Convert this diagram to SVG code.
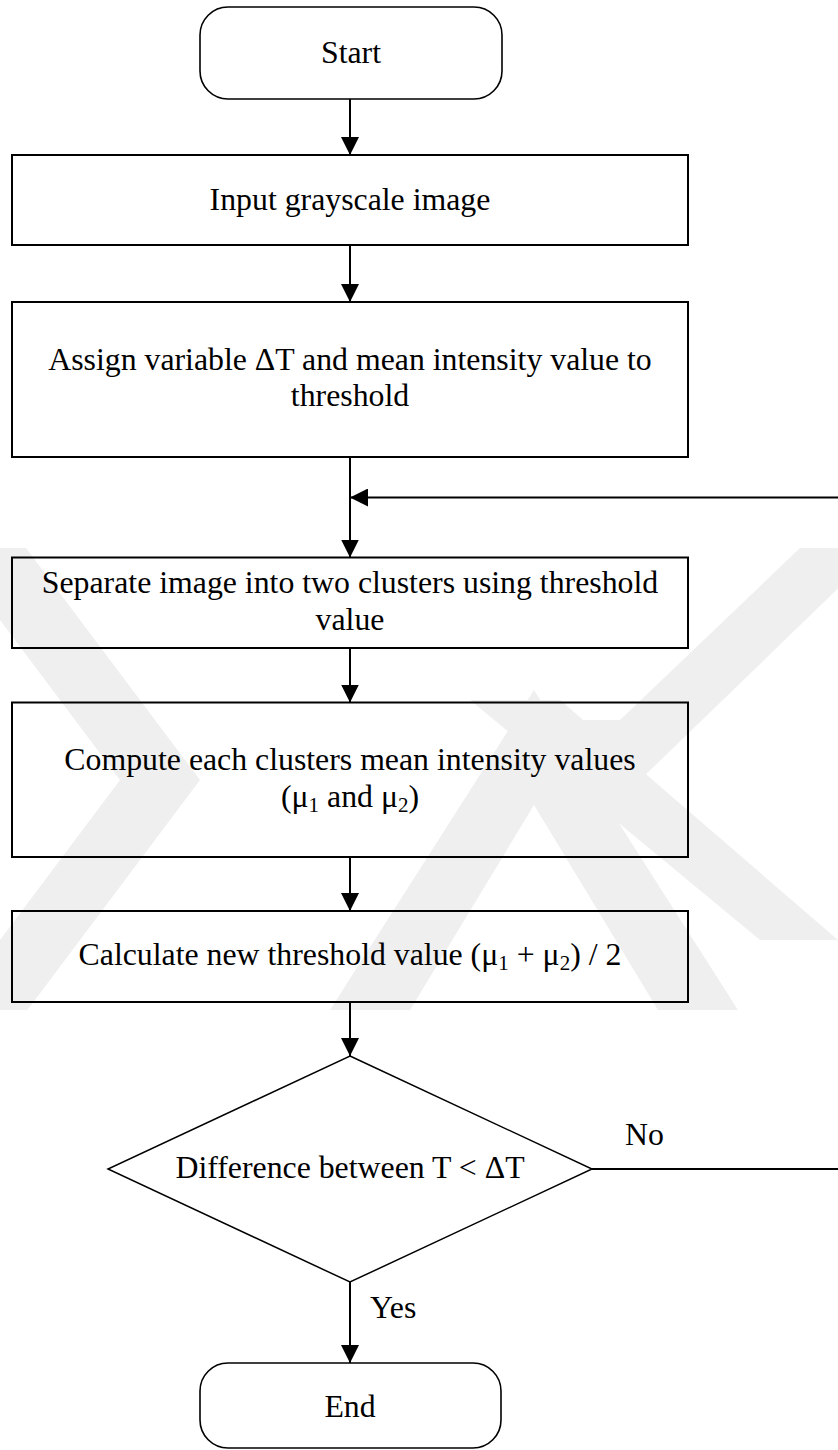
<svg xmlns="http://www.w3.org/2000/svg" width="838" height="1450" viewBox="0 0 838 1450">
  <defs>
    <style>
      .box { fill: none; stroke: #000; stroke-width: 2; }
      .term { fill: none; stroke: #000; stroke-width: 1.6; }
      .dec { fill: none; stroke: #000; stroke-width: 1.5; }
      .wire { fill: none; stroke: #000; stroke-width: 2; }
      .lbl { font-family: "Liberation Serif", "Times New Roman", serif; font-size: 31.8px; fill: #000; text-anchor: middle; }
      .tag { font-family: "Liberation Serif", "Times New Roman", serif; font-size: 31.8px; fill: #000; }
      .wm { fill: #efefef; }
    </style>
    <marker id="head" markerWidth="18" markerHeight="18" refX="18" refY="9" orient="auto" markerUnits="userSpaceOnUse">
      <path d="M0,0 L18,9 L0,18 Z" fill="#000"/>
    </marker>
    <clipPath id="wmclip">
      <rect x="0" y="548" width="838" height="462"/>
    </clipPath>
  </defs>

  <rect width="838" height="1450" fill="#fff"/>

  <!-- background emblem stripes -->
  <g id="emblem" clip-path="url(#wmclip)">
    <polygon class="wm" points="-60,540 20,540 200,780 20,1020 -60,1020 120,780"/>
    <polygon class="wm" points="330,1010 410,1010 534,805 658,1010 738,1010 534,690"/>
    <polygon class="wm" points="470,700 560,700 838,940 760,940"/>
    <polygon class="wm" points="540,720 620,720 800,548 880,548 640,780 560,780"/>
  </g>

  <!-- connectors -->
  <g id="connectors">
    <line class="wire" x1="350" y1="99" x2="350" y2="155" marker-end="url(#head)"/>
    <line class="wire" x1="350" y1="245" x2="350" y2="302" marker-end="url(#head)"/>
    <line class="wire" x1="350" y1="457" x2="350" y2="557.5" marker-end="url(#head)"/>
    <line class="wire" x1="838" y1="497.5" x2="350" y2="497.5" marker-end="url(#head)"/>
    <line class="wire" x1="350" y1="648" x2="350" y2="702.5" marker-end="url(#head)"/>
    <line class="wire" x1="350" y1="857" x2="350" y2="911" marker-end="url(#head)"/>
    <line class="wire" x1="350" y1="1002" x2="350" y2="1056" marker-end="url(#head)"/>
    <line class="wire" x1="350" y1="1282" x2="350" y2="1363" marker-end="url(#head)"/>
    <line class="wire" x1="592" y1="1169" x2="838" y2="1169"/>
    <text class="tag" x="625" y="1145">No</text>
    <text class="tag" x="370" y="1318">Yes</text>
  </g>

  <g id="start">
    <rect class="term" x="200" y="7" width="302" height="92" rx="28" ry="28"/>
    <text class="lbl" x="351" y="63">Start</text>
  </g>

  <g id="input">
    <rect class="box" x="12" y="155" width="676" height="90"/>
    <text class="lbl" x="350" y="210">Input grayscale image</text>
  </g>

  <g id="assign">
    <rect class="box" x="12" y="302" width="676" height="155"/>
    <text class="lbl" x="350" y="370">Assign variable ΔT and mean intensity value to</text>
    <text class="lbl" x="350" y="406">threshold</text>
  </g>

  <g id="separate">
    <rect class="box" x="12" y="557.5" width="676" height="90.5"/>
    <text class="lbl" x="350" y="593">Separate image into two clusters using threshold</text>
    <text class="lbl" x="350" y="630">value</text>
  </g>

  <g id="compute">
    <rect class="box" x="12" y="702.5" width="676" height="154.5"/>
    <text class="lbl" x="350" y="770">Compute each clusters mean intensity values</text>
    <text class="lbl" x="350" y="806.5">(μ<tspan font-size="21" dy="5">1</tspan><tspan dy="-5"> and μ</tspan><tspan font-size="21" dy="5">2</tspan><tspan dy="-5">)</tspan></text>
  </g>

  <g id="calculate">
    <rect class="box" x="12" y="911" width="676" height="91"/>
    <text class="lbl" x="350" y="965">Calculate new threshold value (μ<tspan font-size="21" dy="5">1</tspan><tspan dy="-5"> + μ</tspan><tspan font-size="21" dy="5">2</tspan><tspan dy="-5">) / 2</tspan></text>
  </g>

  <g id="decision">
    <polygon class="dec" points="350,1056 592,1169 350,1282 108,1169"/>
    <text class="lbl" x="350" y="1178">Difference between T &lt; ΔT</text>
  </g>

  <g id="end">
    <rect class="term" x="200" y="1363" width="301" height="85" rx="28" ry="28"/>
    <text class="lbl" x="350" y="1417">End</text>
  </g>
</svg>
